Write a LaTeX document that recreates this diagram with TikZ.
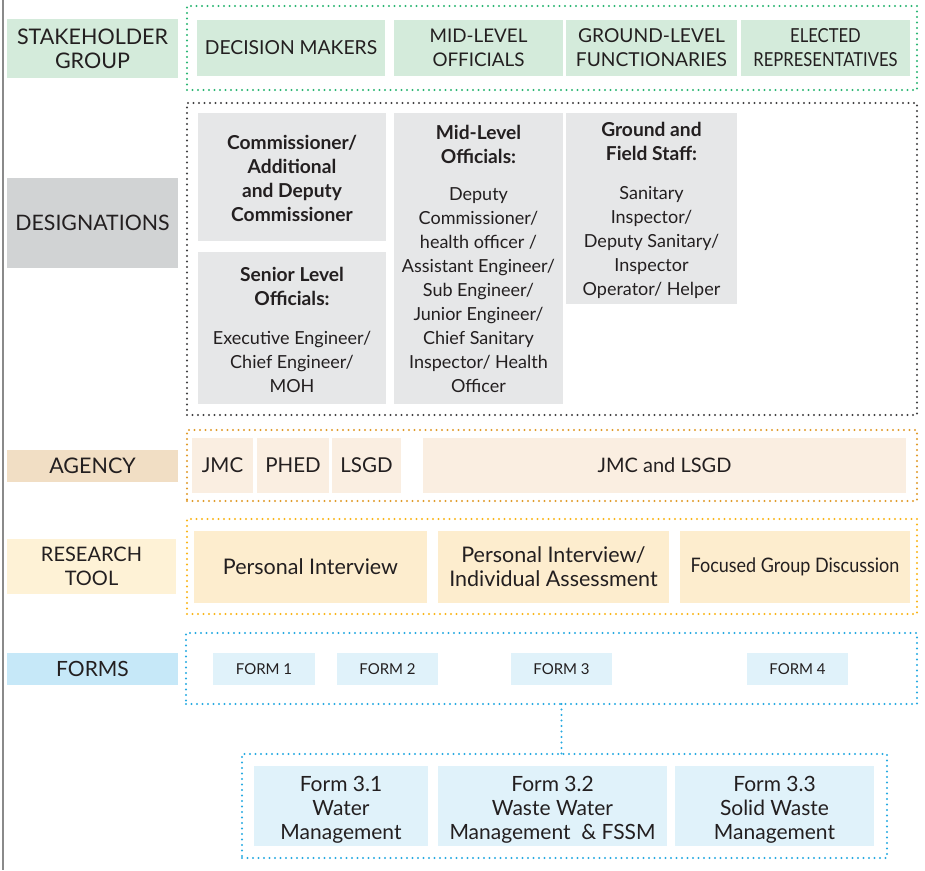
\documentclass[tikz,border=0pt]{standalone}
\usepackage{fontspec}
\setmainfont{Lato}
\usepackage{graphicx}

\definecolor{ink}{HTML}{231F20}
\definecolor{rule}{HTML}{8A8A8A}
% stakeholder row
\definecolor{grnfill}{HTML}{D4EBDB}
\definecolor{grndot}{HTML}{2BB673}
% designations row
\definecolor{greylab}{HTML}{D1D3D4}
\definecolor{greyfill}{HTML}{E6E7E8}
\definecolor{greydot}{HTML}{414042}
% agency row
\definecolor{tanlab}{HTML}{F1DEC4}
\definecolor{tanfill}{HTML}{FAEEE1}
\definecolor{tandot}{HTML}{E09C2C}
% research tool row
\definecolor{yellab}{HTML}{FEF2D6}
\definecolor{yelfill}{HTML}{FDEDCE}
\definecolor{yeldot}{HTML}{F9B51A}
% forms row
\definecolor{bluelab}{HTML}{C6E8F8}
\definecolor{bluefill}{HTML}{E0F2FA}
\definecolor{bluedot}{HTML}{27AAE1}

\newcommand\fs[1]{\fontsize{#1}{24}\selectfont}
\newcommand\hd[1]{\textbf{\fontsize{19.2}{24}\selectfont #1}}

% \cell{style}{name}{x}{y}{w}{h}{text}: box with its top-left corner at (x,y)
\newcommand\cell[7]{\node[cell,#1,minimum width=#5pt,minimum height=#6pt] (#2) at (#3,#4) {#7};}

\begin{document}
\begin{tikzpicture}[x=1pt,y=-1pt,
  cell/.style={anchor=north west,inner sep=0pt,outer sep=0pt,align=center,
    text=ink,font=\fs{20}},
  frame/.style={line width=2.4pt,dash pattern=on 0pt off 5.5pt,line cap=round},
  desig/.style={anchor=north,inner sep=0pt,align=center,text=ink,font=\fs{18}},
  sub/.style={anchor=north,inner sep=0pt,align=center,text=ink,font=\fs{21}},
  small/.style={font=\fontsize{15}{18}\selectfont},
]
\useasboundingbox (0,0) rectangle (925,870);

% left margin rule
\coordinate (ruletop) at (3,0);
\coordinate (rulebot) at (3,870);
\draw[rule,line width=1.5pt] (ruletop) -- (rulebot);

% ---------- stakeholder group ----------
\cell{fill=grnfill,font=\fs{21.5}}{lstake}{7}{19}{171}{59}{STAKEHOLDER\\GROUP}
\cell{draw=grndot,frame}{fstake}{187}{6}{730}{84}{}
\cell{fill=grnfill,font=\fs{19.3}}{dm}{197}{20}{188}{56}{DECISION MAKERS}
\cell{fill=grnfill,font=\fs{18.8}}{mlo}{394}{20}{169}{56}{MID-LEVEL\\OFFICIALS}
\cell{fill=grnfill,font=\fs{19.2}}{glf}{566}{20}{171}{56}{GROUND-LEVEL\\FUNCTIONARIES}
\cell{fill=grnfill,font=\fs{19.3}}{elr}{741}{20}{169}{56}{\scalebox{0.86}[1]{ELECTED}\\\scalebox{0.86}[1]{REPRESENTATIVES}}

% ---------- designations ----------
\cell{fill=greylab,font=\fs{21.3}}{ldesig}{7}{178}{171}{90}{DESIGNATIONS}
\cell{draw=greydot,frame}{fdesig}{187}{103}{730}{312}{}
\cell{fill=greyfill}{comm}{198}{113}{188}{128}{}
\cell{fill=greyfill}{senior}{198}{252}{188}{152}{}
\cell{fill=greyfill}{mid}{394}{113}{169}{291}{}
\cell{fill=greyfill}{ground}{566}{113}{171}{191}{}
\node[desig] (commt) at ([yshift=-22pt]comm.north)
  {\hd{Commissioner/}\\\hd{Additional}\\\hd{and Deputy}\\\hd{Commissioner}};
\node[desig] (seniort) at ([yshift=-15pt]senior.north)
  {\hd{Senior Level}\\\hd{Officials:}\\[15pt]Executive Engineer/\\Chief Engineer/\\MOH};
\node[desig] (midt) at ([yshift=-12pt]mid.north)
  {\hd{Mid-Level}\\\hd{Officials:}\\[13pt]Deputy\\Commissioner/\\health officer /\\Assistant Engineer/\\Sub Engineer/\\Junior Engineer/\\Chief Sanitary\\Inspector/ Health\\Officer};
\node[desig] (groundt) at ([yshift=-9pt]ground.north)
  {\hd{Ground and}\\\hd{Field Staff:}\\[15pt]Sanitary\\Inspector/\\Deputy Sanitary/\\Inspector\\Operator/ Helper};

% ---------- agency ----------
\cell{fill=tanlab,font=\fs{21.5}}{lagency}{7}{450}{171}{32}{AGENCY}
\cell{draw=tandot,frame}{fagency}{187}{430}{730}{71}{}
\cell{fill=tanfill,font=\fs{20.5}}{jmc}{192}{438}{61}{55}{JMC}
\cell{fill=tanfill,font=\fs{20.5}}{phed}{257}{438}{72}{55}{PHED}
\cell{fill=tanfill,font=\fs{20.5}}{lsgd}{332}{438}{69}{55}{LSGD}
\cell{fill=tanfill}{jmclsgd}{423}{438}{483}{55}{JMC and LSGD}

% ---------- research tool ----------
\cell{fill=yellab}{lresearch}{7}{539}{169}{55}{RESEARCH\\TOOL}
\cell{draw=yeldot,frame}{fresearch}{187}{519}{730}{95}{}
\cell{fill=yelfill,font=\fs{21.5}}{pi}{194}{531}{233}{72}{Personal Interview}
\cell{fill=yelfill,font=\fs{21.5}}{pia}{438}{531}{231}{72}{Personal Interview/\\Individual Assessment}
\cell{fill=yelfill}{fgd}{680}{531}{230}{72}{\scalebox{0.9}[1]{Focused Group Discussion}}

% ---------- forms ----------
\cell{fill=bluelab,font=\fs{21}}{lforms}{7}{653}{171}{32}{FORMS}
\cell{draw=bluedot,frame}{fforms}{186}{633}{731}{71}{}
\cell{fill=bluefill,small}{form1}{213}{653}{102}{32}{FORM 1}
\cell{fill=bluefill,small}{form2}{337}{653}{101}{32}{FORM 2}
\cell{fill=bluefill,small}{form3}{511}{653}{101}{32}{FORM 3}
\cell{fill=bluefill,small}{form4}{747}{653}{101}{32}{FORM 4}

% sub-forms of form 3
\cell{draw=bluedot,frame}{fsub}{242}{754}{645}{104}{}
\cell{fill=bluefill}{f31}{254}{766}{174}{80}{}
\cell{fill=bluefill}{f32}{438}{766}{229}{80}{}
\cell{fill=bluefill}{f33}{675}{766}{199}{80}{}
\node[sub] (f31t) at ([yshift=-10pt]f31.north) {Form 3.1\\Water\\Management};
\node[sub] (f32t) at ([yshift=-10pt]f32.north) {Form 3.2\\Waste Water\\Management\ \ \& FSSM};
\node[sub] (f33t) at ([yshift=-10pt]f33.north) {Form 3.3\\Solid Waste\\Management};

\draw[bluedot,frame] (form3 |- fforms.south) -- (form3 |- fsub.north);
\end{tikzpicture}
\end{document}
